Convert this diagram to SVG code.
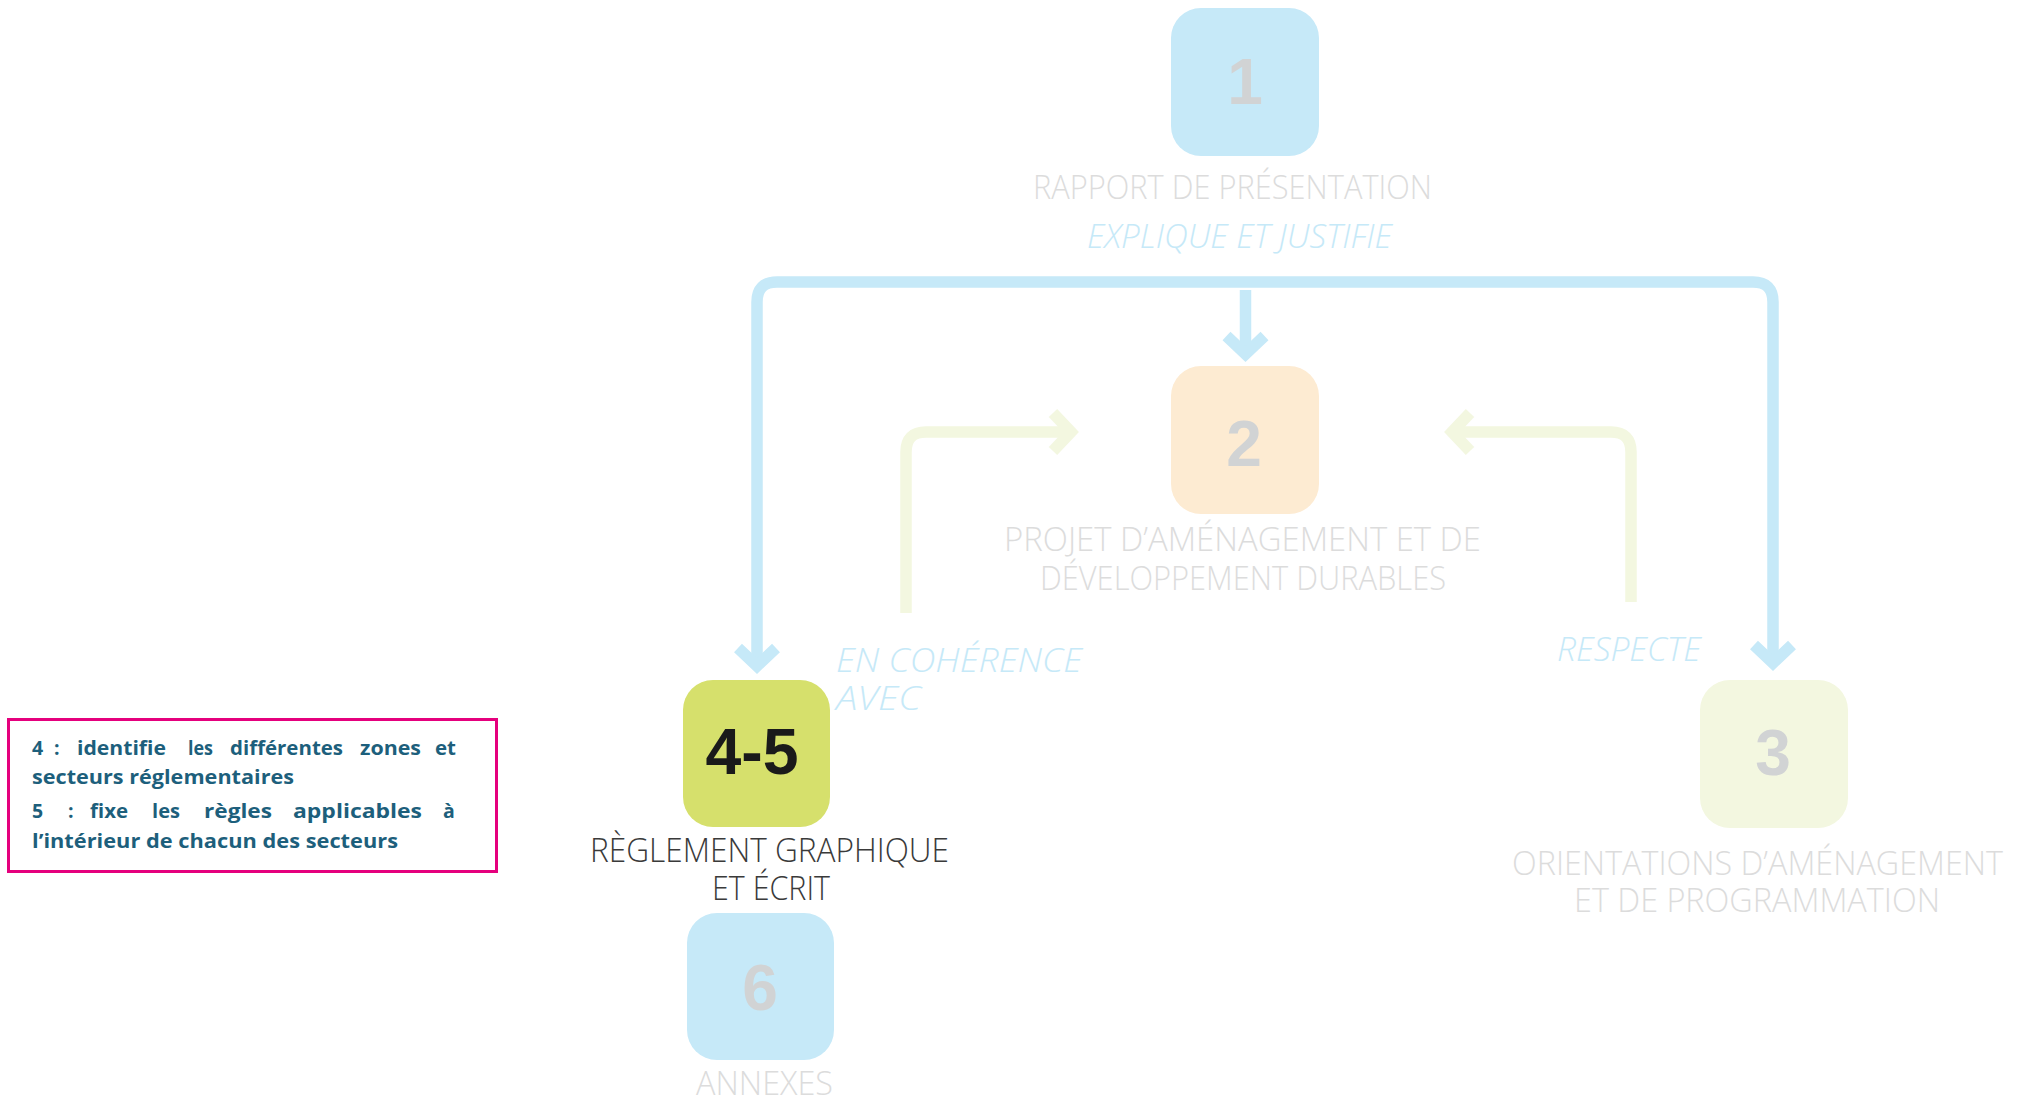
<svg xmlns="http://www.w3.org/2000/svg" width="2022" height="1098" viewBox="0 0 2022 1098">
<style>
.blue{fill:none;stroke:#c6e9f8;stroke-width:11.5}
.green{fill:none;stroke:#f3f7e0;stroke-width:11.5}
.chev{stroke-linejoin:miter;stroke-linecap:butt;stroke-miterlimit:4}
.num{font-family:"Liberation Sans",Arial,sans-serif;font-weight:bold;font-size:64px;fill:#d1d3d4;text-anchor:middle}
.lbl{font-family:"Open Sans","Liberation Sans",sans-serif;font-weight:300;font-size:33px;fill:#dcdcdc}
.dark{fill:#3a3a3a}
.verb{font-family:"Open Sans","Liberation Sans",sans-serif;font-weight:300;font-style:italic;font-size:33px;fill:#c6e9f8}
.note{font-family:"Open Sans","Noto Sans",sans-serif;font-weight:bold;font-size:19.5px;fill:#1d5f7c}
</style>
<rect width="2022" height="1098" fill="#ffffff"/>
<g id="connectors">
<path class="blue" d="M757,666 V302 Q757,282 777,282 H1753 Q1773,282 1773,302 V663"/>
<polyline class="blue chev" points="738,648 757,666 776,648"/>
<polyline class="blue chev" points="1754,645 1773,663 1792,645"/>
<path class="blue" d="M1245.5,290 V354"/>
<polyline class="blue chev" points="1226.5,336 1245.5,354 1264.5,336"/>
<path class="green" d="M906,613 V452 Q906,432 926,432 H1071"/>
<polyline class="green chev" points="1053,413 1071,432 1053,451"/>
<path class="green" d="M1631,602 V452 Q1631,432 1611,432 H1452"/>
<polyline class="green chev" points="1470,413 1452,432 1470,451"/>
<text class="verb" x="1087" y="248" textLength="305" lengthAdjust="spacingAndGlyphs">EXPLIQUE ET JUSTIFIE</text>
<text class="verb" x="836" y="672" textLength="246" lengthAdjust="spacingAndGlyphs">EN COHÉRENCE</text>
<text class="verb" x="836" y="710" textLength="85" lengthAdjust="spacingAndGlyphs">AVEC</text>
<text class="verb" x="1557" y="661" textLength="144" lengthAdjust="spacingAndGlyphs">RESPECTE</text>
</g>
<g id="node1">
<rect x="1171" y="8" width="148" height="148" rx="30" fill="#c6e9f8"/>
<text class="num" x="1245" y="104">1</text>
<text class="lbl" x="1033" y="199" textLength="399" lengthAdjust="spacingAndGlyphs">RAPPORT DE PRÉSENTATION</text>
</g>
<g id="node2">
<rect x="1171" y="366" width="148" height="148" rx="30" fill="#fdebd2"/>
<text class="num" x="1244" y="466">2</text>
<text class="lbl" x="1004" y="551" textLength="477" lengthAdjust="spacingAndGlyphs">PROJET D’AMÉNAGEMENT ET DE</text>
<text class="lbl" x="1040" y="590" textLength="406" lengthAdjust="spacingAndGlyphs">DÉVELOPPEMENT DURABLES</text>
</g>
<g id="node3">
<rect x="1700" y="680" width="148" height="148" rx="30" fill="#f3f7e0"/>
<text class="num" x="1773" y="775">3</text>
<text class="lbl" x="1512" y="875" textLength="491" lengthAdjust="spacingAndGlyphs">ORIENTATIONS D’AMÉNAGEMENT</text>
<text class="lbl" x="1574" y="912" textLength="366" lengthAdjust="spacingAndGlyphs">ET DE PROGRAMMATION</text>
</g>
<g id="node45">
<rect x="683" y="680" width="147" height="147" rx="30" fill="#d6e06c"/>
<text class="num" x="752" y="774" style="fill:#1a1a1a" textLength="93" lengthAdjust="spacingAndGlyphs">4-5</text>
<text class="lbl dark" x="590" y="862" textLength="359" lengthAdjust="spacingAndGlyphs">RÈGLEMENT GRAPHIQUE</text>
<text class="lbl dark" x="712" y="900" textLength="118" lengthAdjust="spacingAndGlyphs">ET ÉCRIT</text>
</g>
<g id="node6">
<rect x="687" y="913" width="147" height="147" rx="30" fill="#c6e9f8"/>
<text class="num" x="760" y="1010">6</text>
<text class="lbl" x="696" y="1095" textLength="137" lengthAdjust="spacingAndGlyphs">ANNEXES</text>
</g>
<g id="note">
<rect x="8.5" y="719.5" width="488" height="152" fill="#ffffff" stroke="#e5007d" stroke-width="3"/>
<text class="note" y="755"><tspan x="32">4</tspan> <tspan x="54">:</tspan> <tspan x="77" textLength="89" lengthAdjust="spacingAndGlyphs">identifie</tspan> <tspan x="188" textLength="25" lengthAdjust="spacingAndGlyphs">les</tspan> <tspan x="230" textLength="113" lengthAdjust="spacingAndGlyphs">différentes</tspan> <tspan x="360" textLength="61" lengthAdjust="spacingAndGlyphs">zones</tspan> <tspan x="435" textLength="21" lengthAdjust="spacingAndGlyphs">et</tspan></text>
<text class="note" x="32" y="784" textLength="262" lengthAdjust="spacingAndGlyphs">secteurs réglementaires</text>
<text class="note" y="818"><tspan x="32">5</tspan> <tspan x="68">:</tspan> <tspan x="90" textLength="38" lengthAdjust="spacingAndGlyphs">fixe</tspan> <tspan x="152" textLength="28" lengthAdjust="spacingAndGlyphs">les</tspan> <tspan x="204" textLength="68" lengthAdjust="spacingAndGlyphs">règles</tspan> <tspan x="293" textLength="129" lengthAdjust="spacingAndGlyphs">applicables</tspan> <tspan x="443">à</tspan></text>
<text class="note" x="32" y="848" textLength="366" lengthAdjust="spacingAndGlyphs">l’intérieur de chacun des secteurs</text>
</g>
</svg>
